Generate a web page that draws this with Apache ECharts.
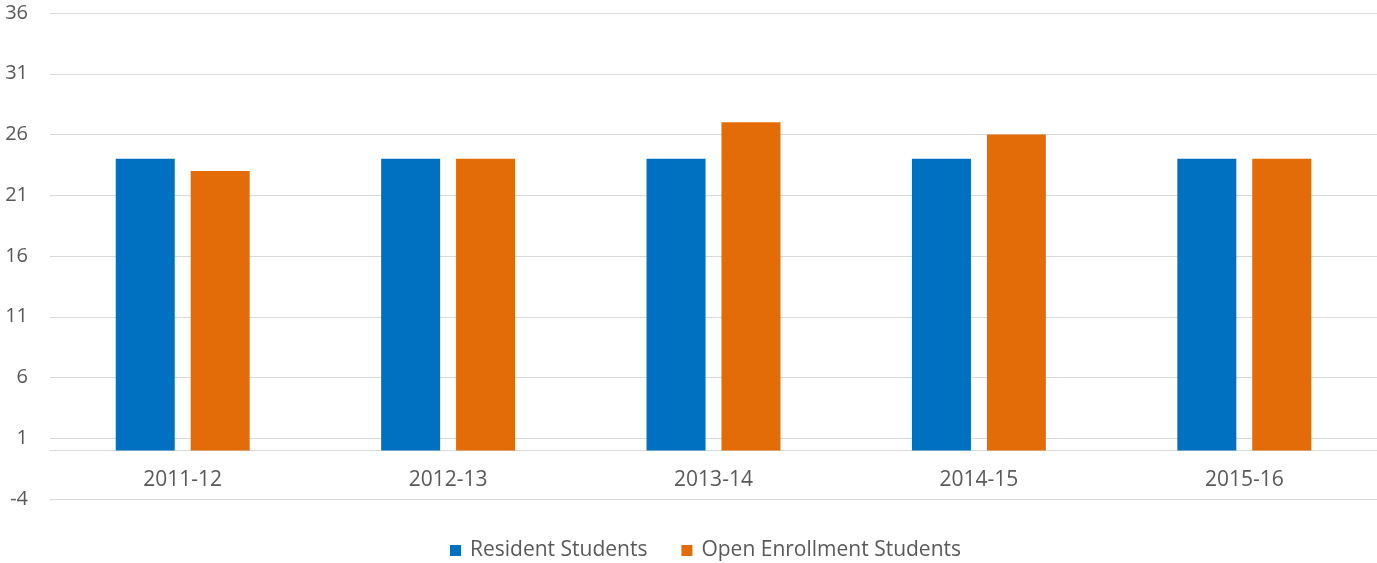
<!DOCTYPE html>
<html>
<head>
<meta charset="utf-8">
<script src="https://cdn.jsdelivr.net/npm/echarts@6/dist/echarts.min.js"></script>
<style>html,body{margin:0;padding:0;background:#fff}#c{width:1377px;height:563px}</style>
</head>
<body>
<div id="c"></div>
<script>
const categories = ['2011-12', '2012-13', '2013-14', '2014-15', '2015-16'];
const residentStudents = [24, 24, 24, 24, 24];
const openEnrollmentStudents = [23, 24, 27, 26, 24];
const seriesNames = ['Resident Students', 'Open Enrollment Students'];

const font = '"Open Sans", "Noto Sans", sans-serif';
const chart = echarts.init(document.getElementById('c'), null, {renderer: 'canvas'});
chart.setOption({
  animation: false,
  textStyle: {fontFamily: font},
  grid: {left: 50, right: 0, top: 13, bottom: 64, containLabel: false},
  legend: {
    bottom: -3, left: 445,
    itemWidth: 11, itemHeight: 11, itemGap: 34,
    icon: 'rect',
    textStyle: {fontFamily: font, fontSize: 21, color: '#595959', padding: [0, 0, 0, 4]},
    data: seriesNames
  },
  xAxis: {
    type: 'category', data: categories,
    axisLine: {onZero: true, lineStyle: {color: '#d9d9d9', width: 1}},
    axisTick: {show: false},
    axisLabel: {fontFamily: font, fontSize: 21, color: '#595959', margin: -29}
  },
  yAxis: {
    type: 'value', min: -4, max: 36, interval: 5,
    axisLine: {show: false}, axisTick: {show: false},
    splitLine: {lineStyle: {color: '#d9d9d9', width: 1}},
    axisLabel: {fontFamily: font, fontSize: 20, color: '#595959', margin: 22}
  },
  series: [
    {name: seriesNames[0], type: 'bar', data: residentStudents, barWidth: 59, barGap: '27%',
     itemStyle: {color: '#0070C0'}},
    {name: seriesNames[1], type: 'bar', data: openEnrollmentStudents, barWidth: 59,
     itemStyle: {color: '#E36C09'}}
  ]
});
</script>
</body>
</html>
